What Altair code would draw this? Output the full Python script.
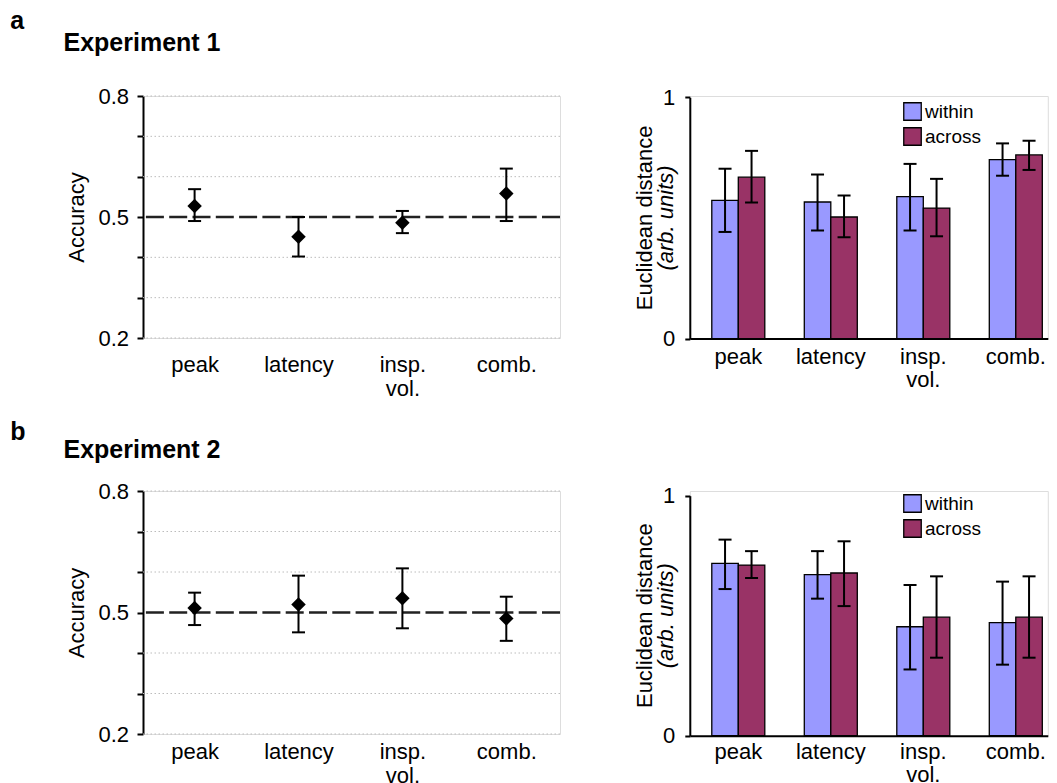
import altair as alt
import pandas as pd

FONT = "Liberation Sans"

cats = ["peak", "latency", "insp. vol.", "comb."]
series = ["within", "across"]
colors = ["#9999ff", "#993366"]

# Experiment 1 - accuracy (mean, lower, upper)
exp1_acc = [0.527, 0.451, 0.486, 0.558]
exp1_lo = [0.490, 0.402, 0.460, 0.490]
exp1_hi = [0.569, 0.500, 0.515, 0.620]

# Experiment 2 - accuracy
exp2_acc = [0.511, 0.520, 0.535, 0.485]
exp2_lo = [0.469, 0.451, 0.461, 0.430]
exp2_hi = [0.549, 0.591, 0.609, 0.539]

# Experiment 1 - Euclidean distance
exp1_within = [0.573, 0.566, 0.588, 0.742]
exp1_within_lo = [0.442, 0.448, 0.448, 0.675]
exp1_within_hi = [0.704, 0.680, 0.724, 0.809]
exp1_across = [0.669, 0.504, 0.541, 0.761]
exp1_across_lo = [0.564, 0.420, 0.424, 0.699]
exp1_across_hi = [0.778, 0.593, 0.662, 0.820]

# Experiment 2 - Euclidean distance
exp2_within = [0.718, 0.671, 0.454, 0.471]
exp2_within_lo = [0.611, 0.571, 0.276, 0.296]
exp2_within_hi = [0.817, 0.769, 0.628, 0.642]
exp2_across = [0.711, 0.678, 0.494, 0.494]
exp2_across_lo = [0.657, 0.540, 0.325, 0.325]
exp2_across_hi = [0.769, 0.810, 0.664, 0.664]

acc_ticks = [0.2, 0.3, 0.4, 0.5, 0.6, 0.7, 0.8]
acc_grid = [0.2, 0.3, 0.4, 0.6, 0.7, 0.8]
chance = [0.5]


def text_layer(txt, x, y, size, weight="normal", style="normal", angle=0,
               align="left", baseline="alphabetic"):
    return alt.Chart(pd.DataFrame({"t": [txt]})).mark_text(
        font=FONT, fontSize=size, fontWeight=weight, fontStyle=style,
        angle=angle, align=align, baseline=baseline, color="black"
    ).encode(text="t:N", x=alt.value(x), y=alt.value(y))


def acc_panel(acc, lo, hi, tag, title, tag_y, title_y, label_pad, height):
    df = pd.DataFrame({"cat": cats, "acc": acc, "lo": lo, "hi": hi})
    base = alt.Chart(df)
    xenc = alt.X("cat:N", sort=cats,
                 scale=alt.Scale(type="point", range=[51.6, 363.3], padding=0),
                 axis=alt.Axis(title=None, domain=False, ticks=False, tickSize=0,
                               grid=False, labelAngle=0, labelPadding=label_pad,
                               labelFontSize=22, labelLineHeight=24,
                               labelExpr="split(datum.label, ' ')"))
    yscale = alt.Scale(domain=[0.2, 0.8], nice=False, zero=False)
    yaxis = alt.Axis(title="Accuracy", values=acc_ticks,
                     labelExpr="(datum.value < 0.25 || datum.value > 0.75 || abs(datum.value - 0.5) < 0.01) ? format(datum.value, '.1f') : ''",
                     grid=False,
                     domainColor="black", domainWidth=2, tickColor="black",
                     tickWidth=2, tickSize=6, labelPadding=8.5, labelFontSize=22,
                     titleFontSize=22, titlePadding=9, titleFontWeight="normal")

    grid = alt.Chart(pd.DataFrame({"g": acc_grid})).mark_rule(
        color="#bcbcbc", strokeWidth=1, strokeDash=[1.5, 2.5]
    ).encode(y=alt.Y("g:Q", scale=yscale, axis=yaxis))
    dashed = alt.Chart(pd.DataFrame({"v": chance})).mark_rule(
        color="#222222", strokeWidth=2.7, strokeDash=[18, 5.3]
    ).encode(y=alt.Y("v:Q", scale=yscale, axis=yaxis))
    err = base.mark_rule(color="black", strokeWidth=2).encode(
        x=xenc, y=alt.Y("lo:Q", scale=yscale, axis=yaxis), y2="hi:Q")
    cap_hi = base.mark_tick(color="black", thickness=2, size=13,
                            orient="horizontal", opacity=1).encode(
        x=xenc, y=alt.Y("hi:Q", scale=yscale, axis=yaxis))
    cap_lo = base.mark_tick(color="black", thickness=2, size=13,
                            orient="horizontal", opacity=1).encode(
        x=xenc, y=alt.Y("lo:Q", scale=yscale, axis=yaxis))
    pts = base.mark_point(shape="diamond", filled=True, size=210,
                          color="black", opacity=1).encode(
        x=xenc, y=alt.Y("acc:Q", scale=yscale, axis=yaxis))
    t1 = text_layer(tag, -132.7, tag_y, 25, weight="bold")
    t2 = text_layer(title, -79.5, title_y, 25, weight="bold")
    return alt.layer(grid, dashed, err, cap_hi, cap_lo, pts, t1, t2).properties(
        width=417, height=height)


def dist_panel(w, wlo, whi, a, alo, ahi, height, top, legend_y, label_pad):
    rows = []
    for s, vals, los, his in [("within", w, wlo, whi), ("across", a, alo, ahi)]:
        for c, v, l, h in zip(cats, vals, los, his):
            rows.append({"cat": c, "series": s, "val": v, "lo": l, "hi": h})
    df = pd.DataFrame(rows)
    base = alt.Chart(df)
    xenc = alt.X("cat:N", sort=cats,
                 scale=alt.Scale(paddingInner=0.427, paddingOuter=0.1486, align=0.8),
                 axis=alt.Axis(title=None, labelAngle=0, ticks=False, tickSize=0,
                               grid=False, domain=True, domainColor="black",
                               domainWidth=2, labelPadding=label_pad,
                               labelFontSize=22, labelLineHeight=23,
                               labelExpr="split(datum.label, ' ')"))
    xoff = alt.XOffset("series:N", sort=series,
                       scale=alt.Scale(domain=series, paddingInner=0, paddingOuter=0))
    yscale = alt.Scale(domain=[0, 1], range=[height, top], nice=False)
    yaxis = alt.Axis(title=None, values=[0, 1], format=".0f", grid=False,
                     domainColor="black", domainWidth=2, tickColor="black",
                     tickWidth=2, tickSize=5, labelPadding=10, labelFontSize=22)
    bars = base.mark_bar(stroke="black", strokeWidth=1.3, opacity=1).encode(
        x=xenc, xOffset=xoff,
        y=alt.Y("val:Q", scale=yscale, axis=yaxis),
        color=alt.Color("series:N", sort=series,
                        scale=alt.Scale(domain=series, range=colors),
                        legend=alt.Legend(title=None, orient="none", legendX=213.2,
                                          legendY=legend_y, symbolType="square",
                                          symbolSize=306, symbolStrokeColor="black",
                                          symbolStrokeWidth=1.3, symbolOpacity=1,
                                          labelFontSize=19, labelFont=FONT,
                                          labelColor="black", labelOffset=3,
                                          rowPadding=2, padding=0)))
    err = base.mark_rule(color="black", strokeWidth=2).encode(
        x=xenc, xOffset=xoff, y=alt.Y("lo:Q", scale=yscale, axis=yaxis), y2="hi:Q")
    cap_hi = base.mark_tick(color="black", thickness=2, size=13,
                            orient="horizontal", opacity=1).encode(
        x=xenc, xOffset=xoff, y=alt.Y("hi:Q", scale=yscale, axis=yaxis))
    cap_lo = base.mark_tick(color="black", thickness=2, size=13,
                            orient="horizontal", opacity=1).encode(
        x=xenc, xOffset=xoff, y=alt.Y("lo:Q", scale=yscale, axis=yaxis))
    mid = (height + top) / 2
    l1 = text_layer("Euclidean distance", -44.5, mid, 22, angle=270,
                    align="center", baseline="middle")
    l2 = text_layer("(arb. units)", -24, mid, 22, style="italic", angle=270,
                    align="center", baseline="middle")
    return alt.layer(bars, err, cap_hi, cap_lo, l1, l2).properties(
        width=358, height=height)


tl = acc_panel(exp1_acc, exp1_lo, exp1_hi, "a", "Experiment 1", -66.7, -45.4, 16.6, 242)
tr = dist_panel(exp1_within, exp1_within_lo, exp1_within_hi,
                exp1_across, exp1_across_lo, exp1_across_hi,
                242.6, 1.3, 6, 8)
bl = acc_panel(exp2_acc, exp2_lo, exp2_hi, "b", "Experiment 2", -51, -33.3, 7.6, 243)
br = dist_panel(exp2_within, exp2_within_lo, exp2_within_hi,
                exp2_across, exp2_across_lo, exp2_across_hi,
                244.7, 4.7, 3, 5.3)

chart = alt.concat(
    tl, tr, bl, br, columns=2,
    spacing=alt.RowColnumber(row=152, column=129.8),
    bounds="flush", align="each"
).resolve_scale(
    color="independent"
).resolve_legend(
    color="independent"
).properties(
    padding={"left": 1, "top": 0, "right": 0, "bottom": 0}
).configure_view(
    stroke=None
).configure_axis(
    labelFont=FONT, titleFont=FONT, labelColor="black", titleColor="black",
    titleFontWeight="normal"
).configure(background="white")

chart.save("out.html", embed_options={"renderer": "svg", "actions": False})
